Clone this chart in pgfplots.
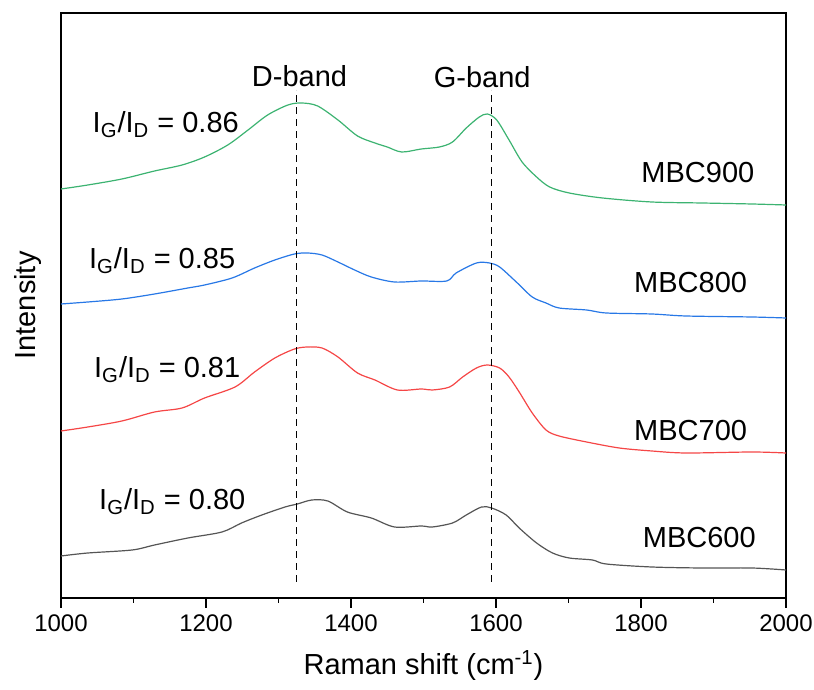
\documentclass[border=0pt]{standalone}
\usepackage{fontspec}
\setmainfont{Liberation Sans}
\usepackage{pgfplots}
\pgfplotsset{compat=1.18}
\definecolor{cgreen}{RGB}{60,179,113}
\definecolor{cblue}{RGB}{40,120,230}
\definecolor{cred}{RGB}{245,70,70}
\definecolor{cgray}{RGB}{85,85,85}
\begin{document}
\begin{tikzpicture}
\useasboundingbox (-30.5pt,-46pt) rectangle (376.5pt,299pt);
\begin{axis}[
 at={(0,0)}, anchor=south west,
 width=362.5pt, height=292.5pt, scale only axis,
 xmin=1000, xmax=2000, ymin=2, ymax=587,
 xtick={1000,1200,...,2000}, minor x tick num=1,
 ytick=\empty,
 tick align=outside, xtick pos=bottom,
 major tick length=5pt, minor tick length=2.5pt,
 axis line style={line width=0.9pt},
 every tick/.style={black, line width=0.9pt},
 ticklabel style={font=\fontsize{12}{14}\selectfont},
 /pgf/number format/assume math mode=true,
 /pgf/number format/set thousands separator={},
 xlabel={Raman shift (cm\textsuperscript{-1})},
 ylabel={Intensity},
 label style={font=\fontsize{14.5}{17}\selectfont},
 xlabel style={at={(axis description cs:0.5,-0.115)}, anchor=center},
 ylabel style={at={(axis description cs:-0.0455,0.5)}, anchor=center},
 clip=false,
 every axis plot/.append style={smooth, tension=0.5},
]
% MBC900
\addplot[cgreen, line width=0.6pt] coordinates {
(1000,411)(1037,415)(1084,421)(1129,429)(1167,435)(1198,443)(1230,455)(1258,470)(1285,485)(1313,495)(1332,497)(1354,494)(1382,480)(1409,464)(1433,457)(1450,453)(1470,448)(1497,451)(1522,453)(1540,458)(1559,472)(1577,483)(1588,486)(1601,480)(1618,460)(1636,438)(1656,423)(1674,413)(1701,407)(1747,402)(1815,398)(1884,397)(1953,396)(2000,395)};
% MBC800
\addplot[cblue, line width=0.6pt] coordinates {
(1000,296)(1037,298)(1084,301)(1129,306)(1175,312)(1198,315)(1236,322)(1267,332)(1295,340)(1322,346)(1340,347)(1360,345)(1382,338)(1405,330)(1428,323)(1460,318)(1497,319)(1532,319)(1545,327)(1573,337)(1591,337)(1605,333)(1628,318)(1650,303)(1669,297)(1687,292)(1725,290)(1752,287)(1815,286)(1862,284)(1953,283)(2000,282)};
% MBC700
\addplot[cred, line width=0.6pt] coordinates {
(1000,169)(1037,173)(1084,179)(1129,188)(1167,192)(1198,202)(1240,213)(1267,228)(1295,242)(1322,251)(1340,253)(1360,252)(1382,243)(1409,227)(1433,220)(1464,210)(1497,211)(1512,210)(1536,213)(1554,223)(1573,232)(1588,235)(1605,232)(1618,223)(1632,208)(1650,187)(1669,170)(1687,164)(1725,158)(1770,152)(1815,149)(1862,147)(1953,148)(2000,147)};
% MBC600
\addplot[cgray, line width=0.6pt] coordinates {
(1000,44)(1037,47)(1098,50)(1129,55)(1175,62)(1222,68)(1249,77)(1277,85)(1309,93)(1326,96)(1346,100)(1368,99)(1395,88)(1428,82)(1460,73)(1497,74)(1512,73)(1540,77)(1559,85)(1580,93)(1594,92)(1614,85)(1632,72)(1656,57)(1678,47)(1701,42)(1733,40)(1752,36)(1815,33)(1884,32)(1953,32)(2000,30)};
% band guide lines
\addplot[black, line width=0.6pt, dash pattern=on 3.5pt off 2.5pt, sharp plot] coordinates {(1325,18)(1325,510)};
\addplot[black, line width=0.6pt, dash pattern=on 3.5pt off 2.5pt, sharp plot] coordinates {(1594,18)(1594,510)};
\node[font=\fontsize{14.5}{17}\selectfont] at (axis cs:1329,524) {D-band};
\node[font=\fontsize{14.5}{17}\selectfont] at (axis cs:1581,523) {G-band};
\node[anchor=base west, font=\fontsize{14.5}{17}\selectfont] at (axis cs:1034,467) {I\textsubscript{G}/I\textsubscript{D} = 0.86};
\node[anchor=base west, font=\fontsize{14.5}{17}\selectfont] at (axis cs:1029,331) {I\textsubscript{G}/I\textsubscript{D} = 0.85};
\node[anchor=base west, font=\fontsize{14.5}{17}\selectfont] at (axis cs:1036,222) {I\textsubscript{G}/I\textsubscript{D} = 0.81};
\node[anchor=base west, font=\fontsize{14.5}{17}\selectfont] at (axis cs:1043,90) {I\textsubscript{G}/I\textsubscript{D} = 0.80};
\node[anchor=base east, font=\fontsize{14.5}{17}\selectfont] at (axis cs:1966,417) {MBC900};
\node[anchor=base east, font=\fontsize{14.5}{17}\selectfont] at (axis cs:1956,307) {MBC800};
\node[anchor=base east, font=\fontsize{14.5}{17}\selectfont] at (axis cs:1956,159) {MBC700};
\node[anchor=base east, font=\fontsize{14.5}{17}\selectfont] at (axis cs:1968,52) {MBC600};
\end{axis}
\end{tikzpicture}
\end{document}
